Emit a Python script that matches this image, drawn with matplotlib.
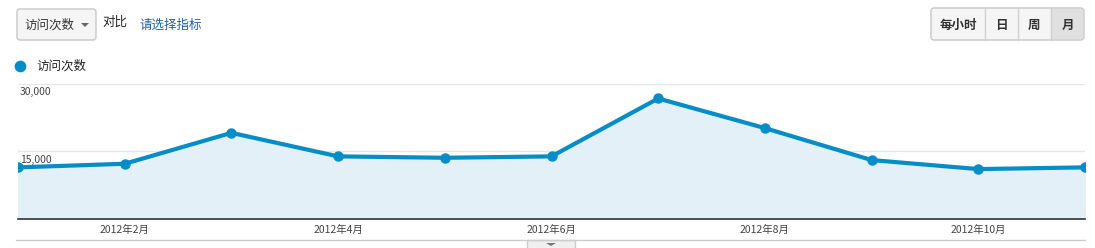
import matplotlib
matplotlib.use("Agg")
import matplotlib.pyplot as plt
from matplotlib.patches import FancyBboxPatch, Rectangle, Polygon

plt.rcParams['font.family'] = ['Noto Sans CJK SC', 'DejaVu Sans']

# ---- data ----
months = ["2012年1月", "2012年2月", "2012年3月", "2012年4月", "2012年5月", "2012年6月",
          "2012年7月", "2012年8月", "2012年9月", "2012年10月", "2012年11月"]
visits = [11390, 12190, 19050, 13830, 13520, 13830, 26680, 20100, 13010, 11010, 11390]
ytick_values = [15000, 30000]
ytick_labels = ["15,000", "30,000"]
xtick_idx = [1, 3, 5, 7, 9]
series_name = "访问次数"
metric_dropdown = "访问次数"
compare_text = "对比"
compare_link = "请选择指标"
period_buttons = ["每小时", "日", "周", "月"]

W, H = 1095, 248
LINE = "#058dc7"
FILL = "#e3f0f7"

fig = plt.figure(figsize=(W / 100, H / 100), dpi=100)
fig.patch.set_facecolor("white")

# overlay axes in pixel coordinates for UI decorations
ui = fig.add_axes([0, 0, 1, 1])
ui.set_xlim(0, W)
ui.set_ylim(H, 0)
ui.axis("off")

# dropdown
ui.add_patch(FancyBboxPatch((17, 9), 79, 31, boxstyle="round,pad=0,rounding_size=3",
                            fc="#f5f5f5", ec="#c8c8c8", lw=1))
ui.text(24, 25, metric_dropdown, fontsize=9, color="#333333", va="center", ha="left")
ui.add_patch(Polygon([[81, 23], [89, 23], [85, 27]], closed=True, fc="#666666", ec="none"))
ui.text(102, 22, compare_text, fontsize=9, color="#222222", va="center", ha="left")
ui.text(140, 25, compare_link, fontsize=9, color="#1a63a8", va="center", ha="left")

# period button group
edges = [931, 985, 1018, 1051, 1084]
ui.add_patch(FancyBboxPatch((931, 8), 153, 32, boxstyle="round,pad=0,rounding_size=3",
                            fc="#f5f5f5", ec="#c8c8c8", lw=1))
ui.add_patch(Rectangle((edges[3] + 1, 9), edges[4] - edges[3] - 2, 30, fc="#e0e0e0", ec="none"))
for e in edges[1:-1]:
    ui.plot([e, e], [8, 40], color="#d0d0d0", lw=1)
for i, lab in enumerate(period_buttons):
    ui.text((edges[i] + edges[i + 1]) / 2, 25, lab, fontsize=9, fontweight="bold",
            color="#333333", ha="center", va="center")

# legend
ui.scatter([20], [66], s=55, color=LINE, zorder=3)
ui.text(36, 66, series_name, fontsize=9, color="#222222", va="center", ha="left")

# bottom light line and toggle tab
ui.plot([16, 1085], [240, 240], color="#cccccc", lw=1)
ui.add_patch(Rectangle((527, 240), 48, 9, fc="#f0f0f0", ec="#cccccc", lw=1))
ui.add_patch(Polygon([[546, 243], [556, 243], [551, 246]], closed=True, fc="#777777", ec="none"))

# data axes
x0, x1 = 18, 1085
ytop, ybot = 83.5, 218.7
ax = fig.add_axes([x0 / W, (H - ybot) / H, (x1 - x0) / W, (ybot - ytop) / H])
ax.set_facecolor("none")
xs = list(range(len(visits)))
ax.set_xlim(0, len(visits) - 1)
ax.set_ylim(0, 30000)
for v in ytick_values:
    ax.axhline(v, color="#e6e6e6", lw=1, zorder=0)
ax.fill_between(xs, visits, 0, color=FILL, zorder=1)
ax.plot(xs, visits, color=LINE, lw=3, zorder=3, solid_joinstyle="round")
ax.plot(xs, visits, "o", color=LINE, ms=6.5, zorder=4)

for v, lab in zip(ytick_values, ytick_labels):
    ax.annotate(lab, xy=(0, v), xytext=(1.5, -2.5), textcoords="offset points",
                fontsize=7.5, color="#444444", ha="left", va="top",
                annotation_clip=False)

for s in ["top", "left", "right"]:
    ax.spines[s].set_visible(False)
ax.spines["bottom"].set_color("#333333")
ax.spines["bottom"].set_linewidth(1.2)
ax.set_yticks([])
ax.set_xticks(xtick_idx)
ax.set_xticklabels([months[i] for i in xtick_idx], fontsize=7.5, color="#444444")
ax.tick_params(axis="x", length=0, pad=4.5)

fig.savefig("out.png", dpi=100)
